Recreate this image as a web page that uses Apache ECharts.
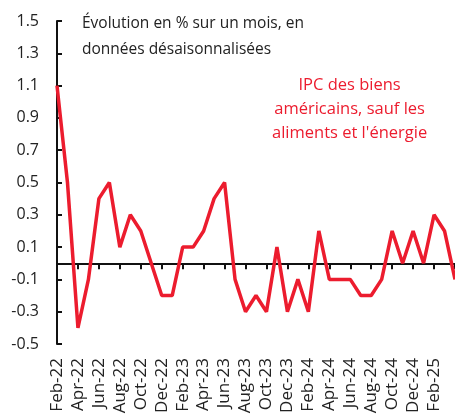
<!DOCTYPE html>
<html>
<head>
<meta charset="utf-8">
<script src="https://cdn.jsdelivr.net/npm/echarts@6/dist/echarts.min.js"></script>
<style>
html,body{margin:0;padding:0;background:#fff;}
#chart{width:455px;height:417px;}
</style>
</head>
<body>
<div id="chart"></div>
<script>
var months = ['Feb-22','Mar-22','Apr-22','May-22','Jun-22','Jul-22','Aug-22','Sep-22','Oct-22','Nov-22','Dec-22',
	'Jan-23','Feb-23','Mar-23','Apr-23','May-23','Jun-23','Jul-23','Aug-23','Sep-23','Oct-23','Nov-23','Dec-23',
	'Jan-24','Feb-24','Mar-24','Apr-24','May-24','Jun-24','Jul-24','Aug-24','Sep-24','Oct-24','Nov-24','Dec-24',
	'Jan-25','Feb-25','Mar-25','Apr-25'];
var coreGoods = [1.1,0.5,-0.4,-0.1,0.4,0.5,0.1,0.3,0.2,0.0,-0.2,
	-0.2,0.1,0.1,0.2,0.4,0.5,-0.1,-0.3,-0.2,-0.3,0.1,-0.3,
	-0.1,-0.3,0.2,-0.1,-0.1,-0.1,-0.2,-0.2,-0.1,0.2,0.0,0.2,
	0.0,0.3,0.2,-0.1];
var yTicks = {min:-0.5,max:1.5,step:0.2};
var subtitle = 'Évolution en % sur un mois, en\ndonnées désaisonnalisées';
var seriesLabel = "IPC des biens\naméricains, sauf les\naliments et l'énergie";

var red = '#ec1c2e';
var font = '"Open Sans", "Noto Sans", sans-serif';

var myChart = echarts.init(document.getElementById('chart'));
var option = {
	animation:false,
	textStyle:{fontFamily:font},
	grid:{left:57,right:0,top:21,bottom:73,containLabel:false},
	graphic:[
		{type:'text',left:82,top:11,style:{text:subtitle,fill:'#222',font:'15.5px '+font,lineHeight:26}},
		{type:'text',left:272,top:73,style:{text:seriesLabel,fill:red,font:'16.5px '+font,lineHeight:24,align:'center',textAlign:'center'}}
	],
	xAxis:[
		{
			type:'category',data:months,boundaryGap:false,position:'bottom',
			axisLine:{show:false,onZero:false},
			axisTick:{show:false},
			axisLabel:{
				rotate:90,margin:14,color:'#222',fontSize:17,fontFamily:font,
				interval:function(i){return i%2===0 && i<months.length-1;}
			}
		},
		{
			type:'category',data:months,boundaryGap:false,position:'bottom',
			axisLine:{show:true,onZero:true,lineStyle:{color:'#111',width:2}},
			axisTick:{show:true,interval:1,length:6,lineStyle:{color:'#111',width:2}},
			axisLabel:{show:false}
		}
	],
	yAxis:{
		type:'value',min:yTicks.min,max:yTicks.max,interval:yTicks.step,
		axisLine:{show:true,lineStyle:{color:'#111',width:2}},
		axisTick:{show:true,inside:true,length:5,lineStyle:{color:'#111',width:2}},
		splitLine:{show:false},
		axisLabel:{color:'#222',fontSize:16,fontFamily:font,margin:18,
			formatter:function(v){return v.toFixed(1);}}
	},
	series:[{
		type:'line',data:coreGoods,xAxisIndex:0,
		symbol:'none',
		lineStyle:{color:red,width:3.5},
		z:1
	}]
};
myChart.setOption(option);
</script>
</body>
</html>
